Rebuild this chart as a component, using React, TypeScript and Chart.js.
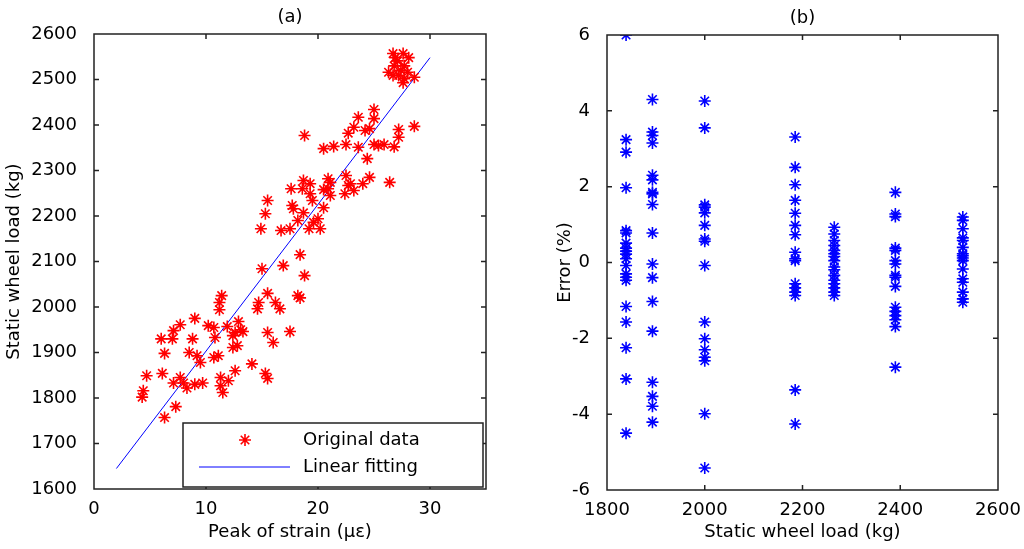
import { useEffect, useRef } from 'react';
import { Chart, registerables } from 'chart.js';

Chart.register(...registerables);

const FONT_FAMILY = '"DejaVu Sans", "Liberation Sans", Arial, sans-serif';
const FONT_SIZE = 18;

// panel (a): peak of strain vs static wheel load
const strainX = [
  26.7, 27.6, 28.1, 26.9, 27.1, 27.7, 26.8, 27.4, 26.3, 28.0, 27.2, 26.7, 27.7, 28.6, 27.6,
  28.6, 27.2, 27.2, 25.0, 25.0, 23.6, 23.2, 22.7, 24.2, 24.6, 18.8, 20.5, 21.4, 22.5, 23.6,
  25.0, 25.4, 25.9, 26.8, 24.4,
  26.4, 24.6, 24.0, 22.9, 22.5, 23.2, 22.4, 22.7, 20.9, 21.1, 20.9, 21.1, 20.5, 19.3, 18.7,
  18.6, 19.3, 19.5, 17.6, 17.7, 17.8, 18.7, 20.5, 20.0, 19.6, 18.2, 19.2, 20.2, 17.5, 16.7,
  15.5, 15.3, 14.9, 18.4, 16.9, 15.0,
  18.8, 15.5, 14.7, 14.6, 16.2, 16.6, 18.2, 18.4, 11.4, 11.2, 11.2, 9.0, 7.7, 7.1, 10.2,
  10.7, 11.9, 12.9, 13.1, 13.3, 12.6, 15.5, 17.5, 6.0, 7.0, 8.8, 10.8, 12.4, 16.0, 6.3,
  8.5, 9.2, 9.5, 10.7, 11.1, 12.4, 12.8, 14.1, 15.3, 15.5, 12.6, 12.0, 11.3, 11.3, 11.5,
  9.7, 9.0, 8.3, 8.0, 7.1, 7.7, 6.1, 4.7, 4.4, 4.3, 7.3, 6.3,
];
const loadY = [
  2557, 2557, 2548, 2548, 2541, 2530, 2530, 2520, 2516, 2516, 2509, 2509, 2502, 2505, 2493,
  2397, 2390, 2373, 2434, 2414, 2417, 2395, 2382, 2388, 2392, 2377, 2348, 2353, 2357, 2351,
  2357, 2355, 2357, 2352, 2326,
  2274, 2285, 2271, 2271, 2289, 2256, 2249, 2267, 2282, 2274, 2260, 2245, 2258, 2271, 2278,
  2260, 2249, 2234, 2260, 2223, 2216, 2207, 2218, 2194, 2186, 2190, 2172, 2172, 2172, 2168,
  2234, 2205, 2172, 2115, 2091, 2084,
  2069, 2030, 2010, 1996, 2010, 1996, 2025, 2020, 2025, 2010, 1994, 1975, 1961, 1948, 1959,
  1955, 1957, 1968, 1950, 1946, 1944, 1944, 1946, 1930, 1930, 1930, 1933, 1937, 1922, 1898,
  1900, 1893, 1878, 1889, 1893, 1911, 1915, 1875, 1854, 1843, 1860, 1838, 1845, 1827, 1812,
  1833, 1830, 1822, 1833, 1833, 1845, 1854, 1849, 1816, 1802, 1781, 1757,
];
const fitX = [2, 30];
const fitY = [1645, 2548];
const aXTicks = [0, 10, 20, 30];
const aYTicks = [1600, 1700, 1800, 1900, 2000, 2100, 2200, 2300, 2400, 2500, 2600];

// panel (b): error at each static wheel load
const loadLevels = [1839, 1893, 2000, 2185, 2265, 2390, 2528];
const errorPct = [
  [6.0, 3.24, 2.91, 1.97, 0.84, 0.78, 0.51, 0.38, 0.3, 0.22, 0.1, -0.08, -0.3, -0.39, -0.47, -1.16, -1.57, -2.25, -3.07, -4.5],
  [4.3, 3.44, 3.35, 3.15, 2.3, 2.18, 1.85, 1.81, 1.53, 0.78, -0.04, -0.4, -1.03, -1.81, -3.16, -3.53, -3.79, -4.21],
  [4.26, 3.55, 1.52, 1.46, 1.31, 0.98, 0.62, 0.56, -0.08, -1.57, -2.01, -2.3, -2.5, -2.59, -3.99, -5.42],
  [3.31, 2.51, 2.05, 1.64, 1.3, 0.98, 0.73, 0.27, 0.1, 0.05, -0.56, -0.67, -0.78, -0.87, -3.36, -4.26],
  [0.93, 0.75, 0.58, 0.45, 0.32, 0.23, 0.16, 0.05, -0.12, -0.19, -0.34, -0.47, -0.56, -0.67, -0.78, -0.87],
  [1.85, 1.28, 1.21, 0.38, 0.32, 0.05, -0.04, -0.34, -0.39, -0.63, -1.18, -1.29, -1.4, -1.51, -1.69, -2.76],
  [1.2, 1.11, 0.89, 0.65, 0.58, 0.4, 0.23, 0.18, 0.12, 0.05, -0.17, -0.43, -0.52, -0.78, -0.96, -1.05],
];
const bXTicks = [1800, 2000, 2200, 2400, 2600];
const bYTicks = [-6, -4, -2, 0, 2, 4, 6];

const font = { family: FONT_FAMILY, size: FONT_SIZE };

function drawStar(ctx: CanvasRenderingContext2D, x: number, y: number, r: number) {
  const d = r * Math.SQRT1_2;
  ctx.beginPath();
  ctx.moveTo(x - r, y); ctx.lineTo(x + r, y);
  ctx.moveTo(x, y - r); ctx.lineTo(x, y + r);
  ctx.moveTo(x - d, y - d); ctx.lineTo(x + d, y + d);
  ctx.moveTo(x - d, y + d); ctx.lineTo(x + d, y - d);
  ctx.stroke();
}

// matlab-like box with inward ticks on all sides, plus the panel title
const makeBox = (title: string) => ({
  id: 'matlabBox',
  afterDraw(chart: any) {
    const { ctx, chartArea: a, scales } = chart;
    ctx.save();
    ctx.strokeStyle = '#222';
    ctx.lineWidth = 1.5;
    ctx.strokeRect(a.left, a.top, a.right - a.left, a.bottom - a.top);
    ctx.beginPath();
    scales.x.ticks.forEach((t: any) => {
      const px = scales.x.getPixelForValue(t.value);
      if (px <= a.left + 1 || px >= a.right - 1) return;
      ctx.moveTo(px, a.bottom); ctx.lineTo(px, a.bottom - 5);
      ctx.moveTo(px, a.top); ctx.lineTo(px, a.top + 5);
    });
    scales.y.ticks.forEach((t: any) => {
      const py = scales.y.getPixelForValue(t.value);
      if (py <= a.top + 1 || py >= a.bottom - 1) return;
      ctx.moveTo(a.left, py); ctx.lineTo(a.left + 5, py);
      ctx.moveTo(a.right, py); ctx.lineTo(a.right - 5, py);
    });
    ctx.stroke();
    ctx.fillStyle = '#000';
    ctx.font = `${FONT_SIZE}px ${FONT_FAMILY}`;
    ctx.textAlign = 'center';
    ctx.textBaseline = 'middle';
    ctx.fillText(title, (a.left + a.right) / 2, a.top - 17);
    ctx.restore();
  },
});

const legendBox = {
  id: 'legendBox',
  afterDraw(chart: any) {
    const { ctx, chartArea: a } = chart;
    const w = 300, h = 64;
    const left = a.right - 3 - w;
    const top = a.bottom - 2 - h;
    ctx.save();
    ctx.fillStyle = '#fff';
    ctx.fillRect(left, top, w, h);
    ctx.strokeStyle = '#222';
    ctx.lineWidth = 1.5;
    ctx.strokeRect(left, top, w, h);
    ctx.strokeStyle = '#ff0000';
    ctx.lineWidth = 1.6;
    drawStar(ctx, left + 62, top + 17, 6);
    ctx.strokeStyle = '#0000ff';
    ctx.lineWidth = 1;
    ctx.beginPath();
    ctx.moveTo(left + 16, top + 44);
    ctx.lineTo(left + 107, top + 44);
    ctx.stroke();
    ctx.fillStyle = '#000';
    ctx.font = `${FONT_SIZE}px ${FONT_FAMILY}`;
    ctx.textAlign = 'left';
    ctx.textBaseline = 'middle';
    ctx.fillText('Original data', left + 120, top + 17);
    ctx.fillText('Linear fitting', left + 120, top + 44);
    ctx.restore();
  },
};

const axisOpts = (min: number, max: number, ticks: number[], title: string, isX: boolean, size: number, titlePad: any) => ({
  type: 'linear' as const,
  min,
  max,
  afterBuildTicks: (s: any) => { s.ticks = ticks.map((v) => ({ value: v })); },
  afterFit: (s: any) => { if (isX) s.height = size; else s.width = size; },
  grid: { display: false },
  border: { display: false },
  ticks: {
    font,
    color: '#000',
    padding: isX ? 2 : 9,
    maxRotation: 0,
    autoSkip: false,
    callback: (v: any) => String(v),
  },
  title: { display: true, text: title, font, color: '#000', padding: titlePad },
});

const PanelA = () => {
  const ref = useRef<HTMLCanvasElement | null>(null);
  useEffect(() => {
    if (!ref.current) return;
    const chart = new Chart(ref.current, {
      type: 'scatter',
      data: {
        datasets: [
          {
            label: 'Original data',
            data: strainX.map((x, i) => ({ x, y: loadY[i] })),
            pointStyle: 'star',
            pointRadius: 6,
            borderColor: '#ff0000',
            backgroundColor: '#ff0000',
            borderWidth: 1.6,
            showLine: false,
          },
          {
            label: 'Linear fitting',
            data: fitX.map((x, i) => ({ x, y: fitY[i] })),
            showLine: true,
            borderColor: '#0000ff',
            borderWidth: 1,
            pointRadius: 0,
            fill: false,
          },
        ],
      },
      options: {
        animation: false,
        responsive: true,
        maintainAspectRatio: false,
        layout: { padding: { top: 34, right: 26, bottom: 6, left: 0 } },
        plugins: { legend: { display: false }, tooltip: { enabled: false } },
        scales: {
          x: axisOpts(0, 35, aXTicks, 'Peak of strain (με)', true, 54, { top: 0, bottom: 0 }),
          y: axisOpts(1600, 2600, aYTicks, 'Static wheel load (kg)', false, 94, { top: 4, bottom: 0 }),
        },
      } as any,
      plugins: [makeBox('(a)'), legendBox],
    });
    return () => chart.destroy();
  }, []);
  return <canvas ref={ref}></canvas>;
};

const PanelB = () => {
  const ref = useRef<HTMLCanvasElement | null>(null);
  useEffect(() => {
    if (!ref.current) return;
    const points: { x: number; y: number }[] = [];
    loadLevels.forEach((load, i) => errorPct[i].forEach((e) => points.push({ x: load, y: e })));
    const chart = new Chart(ref.current, {
      type: 'scatter',
      data: {
        datasets: [
          {
            label: 'Error',
            data: points,
            pointStyle: 'star',
            pointRadius: 6,
            borderColor: '#0000ff',
            backgroundColor: '#0000ff',
            borderWidth: 1.6,
            showLine: false,
          },
        ],
      },
      options: {
        animation: false,
        responsive: true,
        maintainAspectRatio: false,
        layout: { padding: { top: 35, right: 26, bottom: 6, left: 40 } },
        plugins: { legend: { display: false }, tooltip: { enabled: false } },
        scales: {
          x: axisOpts(1800, 2600, bXTicks, 'Static wheel load (kg)', true, 53, { top: 0, bottom: 0 }),
          y: axisOpts(-6, 6, bYTicks, 'Error (%)', false, 55, { top: 3, bottom: 0 }),
        },
      } as any,
      plugins: [makeBox('(b)')],
    });
    return () => chart.destroy();
  }, []);
  return <canvas ref={ref}></canvas>;
};

export default function App() {
  return (
    <div style={{ position: 'fixed', left: 0, top: 0, width: 1024, height: 549, background: '#fff' }}>
      <div style={{ position: 'absolute', left: 0, top: 0, width: 512, height: 549 }}>
        <PanelA />
      </div>
      <div style={{ position: 'absolute', left: 512, top: 0, width: 512, height: 549 }}>
        <PanelB />
      </div>
    </div>
  );
}
